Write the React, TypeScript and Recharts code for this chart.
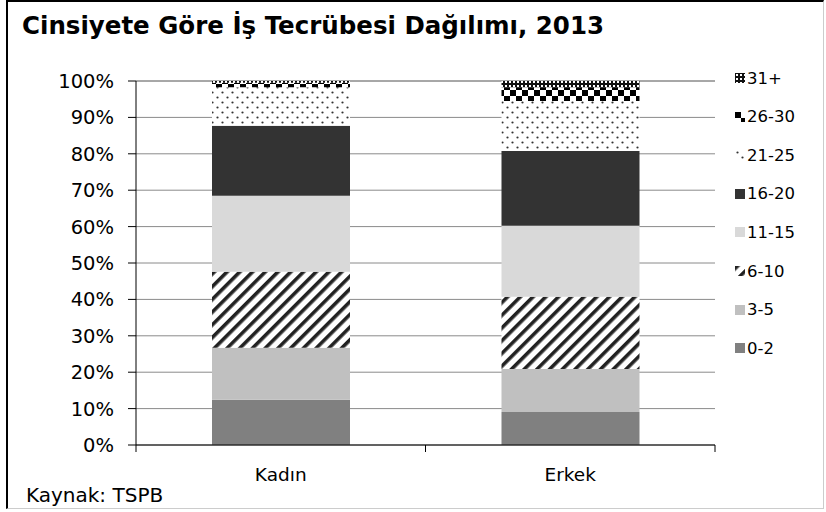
import { BarChart, Bar, XAxis, YAxis, CartesianGrid } from 'recharts';

const categories = ['Kadın', 'Erkek'];
const groups = ['0-2', '3-5', '6-10', '11-15', '16-20', '21-25', '26-30', '31+'];
const kadin = [12.4, 14.3, 20.9, 20.9, 19.2, 10.6, 1.2, 0.5];
const erkek = [9.1, 11.8, 19.8, 19.5, 20.6, 13.7, 3.8, 1.7];
const yTicks = [0, 10, 20, 30, 40, 50, 60, 70, 80, 90, 100];

const fills = [
  '#808080',
  '#c0c0c0',
  'url(#p610)',
  '#d9d9d9',
  '#333333',
  'url(#p2125)',
  'url(#p2630)',
  'url(#p31)',
];

const data = categories.map((name, i) => {
  const row: Record<string, string | number> = { name };
  const vals = i === 0 ? kadin : erkek;
  groups.forEach((g, j) => {
    row[g] = vals[j];
  });
  return row;
});

const FONT = '"DejaVu Sans", sans-serif';
const W = 826;
const H = 512;
const margin = { top: 81, right: 111, bottom: 27, left: 0 };
const yAxisW = 136;
const plotW = W - margin.left - margin.right - yAxisW;
const plotBottom = H - margin.bottom - 40;
const band = plotW / categories.length;

const CatTick = (props: any) => {
  const { x, payload } = props;
  return (
    <g>
      <line x1={x - band / 2} x2={x - band / 2} y1={plotBottom} y2={plotBottom + 7} stroke="#000" />
      <line x1={x + band / 2} x2={x + band / 2} y1={plotBottom} y2={plotBottom + 7} stroke="#000" />
      <text x={x} y={plotBottom + 36} textAnchor="middle" fontSize={18.5} fontFamily={FONT} fill="#000">
        {payload.value}
      </text>
    </g>
  );
};

const Patterns = () => (
  <svg width={0} height={0} style={{ position: 'absolute' }}>
    <defs>
      <pattern id="p610" patternUnits="userSpaceOnUse" width={9} height={9} patternTransform="rotate(45)">
        <rect width={9} height={9} fill="#fff" />
        <rect x={0} y={0} width={3.6} height={9} fill="#222" />
      </pattern>
      <pattern id="p2125" patternUnits="userSpaceOnUse" width={10} height={10}>
        <rect width={10} height={10} fill="#fff" />
        <circle cx={2.5} cy={2.5} r={1.1} fill="#333" />
        <circle cx={7.5} cy={7.5} r={1.1} fill="#333" />
      </pattern>
      <pattern id="p2630" patternUnits="userSpaceOnUse" width={12} height={12}>
        <rect width={12} height={12} fill="#fff" />
        <rect x={0} y={0} width={6} height={6} fill="#000" />
        <rect x={6} y={6} width={6} height={6} fill="#000" />
      </pattern>
      <pattern id="p31" patternUnits="userSpaceOnUse" width={4} height={4}>
        <rect width={4} height={4} fill="#111" />
        <rect x={1} y={1} width={2} height={2} fill="#fff" />
      </pattern>
    </defs>
  </svg>
);

export default function App() {
  return (
    <div style={{ position: 'absolute', left: 0, top: 0, width: W, height: H, background: '#fff', fontFamily: FONT }}>
      <Patterns />
      <div
        style={{
          position: 'absolute',
          left: 6,
          top: 0,
          width: 818,
          height: 509,
          borderLeft: '2px solid #000',
          borderTop: '2px solid #000',
          borderRight: '1px solid #ccc',
          borderBottom: '1px solid #ccc',
          boxSizing: 'border-box',
        }}
      />
      <div style={{ position: 'absolute', left: 22, top: 11, fontSize: 24.5, fontWeight: 'bold', color: '#000', whiteSpace: 'nowrap' }}>
        Cinsiyete Göre İş Tecrübesi Dağılımı, 2013
      </div>
      <div style={{ position: 'absolute', left: 26, top: 483, fontSize: 20, color: '#000', whiteSpace: 'nowrap' }}>
        Kaynak: TSPB
      </div>
      <div style={{ position: 'absolute', left: 0, top: 0 }}>
        <BarChart width={W} height={H} data={data} margin={margin} barSize={138}>
          <CartesianGrid vertical={false} stroke="#8a8a8a" />
          <YAxis
            type="number"
            domain={[0, 100]}
            ticks={yTicks}
            width={yAxisW}
            tickFormatter={(v: number) => `${v}%`}
            axisLine={{ stroke: '#000' }}
            tickLine={{ stroke: '#000' }}
            tickSize={8}
            tickMargin={14}
            tick={{ fontSize: 19.5, fontFamily: FONT, fill: '#000' }}
            interval={0}
          />
          <XAxis
            dataKey="name"
            height={40}
            axisLine={{ stroke: '#000' }}
            tickLine={false}
            tick={<CatTick />}
            interval={0}
          />
          {groups.map((g, i) => (
            <Bar key={g} dataKey={g} stackId="a" fill={fills[i]} isAnimationActive={false} />
          ))}
        </BarChart>
      </div>
      {groups
        .map((g, i) => ({ g, fill: fills[i] }))
        .reverse()
        .map((item, k) => (
          <div
            key={item.g}
            style={{
              position: 'absolute',
              left: 735,
              top: 67 + k * 38.6,
              height: 22,
              display: 'flex',
              alignItems: 'center',
              fontSize: 16.5,
              color: '#000',
              whiteSpace: 'nowrap',
            }}
          >
            <svg width={10} height={10} style={{ marginRight: 2 }}>
              <rect width={10} height={10} fill={item.fill} />
            </svg>
            {item.g}
          </div>
        ))}
    </div>
  );
}
